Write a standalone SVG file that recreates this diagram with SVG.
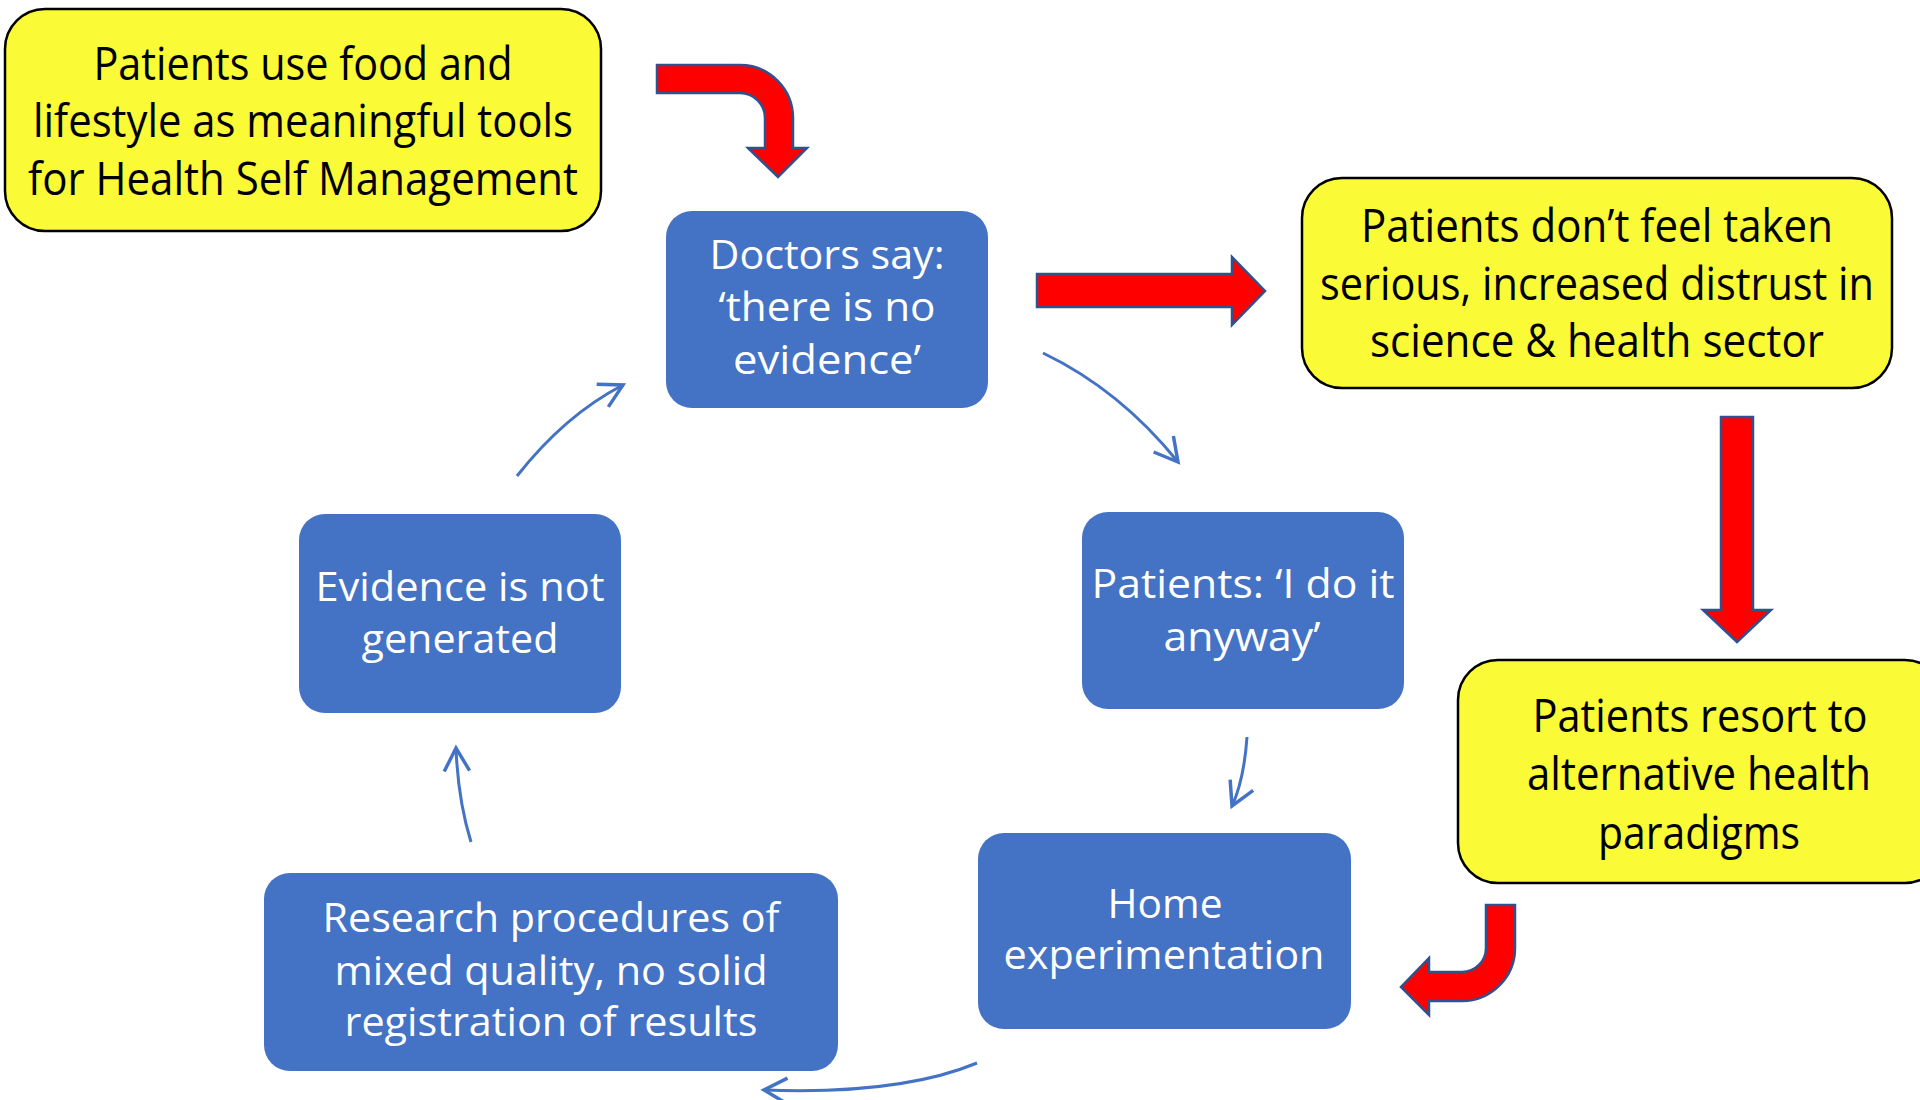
<svg xmlns="http://www.w3.org/2000/svg" width="1920" height="1100" viewBox="0 0 1920 1100">
<style>
.y{fill:#FAFA37;stroke:#000;stroke-width:2.5}
.b{fill:#4472C4;stroke:none}
.ty{font-family:"Open Sans","Noto Sans",sans-serif;font-size:45px;fill:#000;text-anchor:middle}
.tb{font-family:"Open Sans","Noto Sans",sans-serif;font-size:41px;fill:#fff;text-anchor:middle}
.red{fill:#FF0000;stroke:#2F528F;stroke-width:2.5;stroke-linejoin:miter}
.c{fill:none;stroke:#4472C4;stroke-width:3}
</style>
<defs>
<marker id="ah" markerUnits="userSpaceOnUse" markerWidth="30" markerHeight="30" viewBox="-22 -12 26 24" refX="0" refY="0" orient="auto">
<polyline points="-20,-11 0,0 -20,11" fill="none" stroke="#4472C4" stroke-width="3"/>
</marker>
</defs>
<rect width="1920" height="1100" fill="#fff"/>

<g id="n-selfmanagement">
<rect class="y" x="5" y="9" width="596" height="222" rx="40"/>
<text class="ty" x="303" y="80" textLength="419" lengthAdjust="spacingAndGlyphs">Patients use food and</text>
<text class="ty" x="303" y="137" textLength="540" lengthAdjust="spacingAndGlyphs">lifestyle as meaningful tools</text>
<text class="ty" x="303" y="195" textLength="550" lengthAdjust="spacingAndGlyphs">for Health Self Management</text>
</g>

<g id="n-distrust">
<rect class="y" x="1302" y="178" width="590" height="210" rx="40"/>
<text class="ty" x="1597" y="242" textLength="472" lengthAdjust="spacingAndGlyphs">Patients don’t feel taken</text>
<text class="ty" x="1597" y="300" textLength="554" lengthAdjust="spacingAndGlyphs">serious, increased distrust in</text>
<text class="ty" x="1597" y="357" textLength="454" lengthAdjust="spacingAndGlyphs">science &amp; health sector</text>
</g>

<g id="n-alternative">
<rect class="y" x="1458" y="660" width="487" height="223" rx="40"/>
<text class="ty" x="1700" y="732" textLength="335" lengthAdjust="spacingAndGlyphs">Patients resort to</text>
<text class="ty" x="1699" y="790" textLength="344" lengthAdjust="spacingAndGlyphs">alternative health</text>
<text class="ty" x="1699" y="849" textLength="202" lengthAdjust="spacingAndGlyphs">paradigms</text>
</g>

<g id="n-doctors">
<rect class="b" x="666" y="211" width="322" height="197" rx="26"/>
<text class="tb" x="827" y="269" textLength="235" lengthAdjust="spacingAndGlyphs">Doctors say:</text>
<text class="tb" x="827" y="321" textLength="217" lengthAdjust="spacingAndGlyphs">‘there is no</text>
<text class="tb" x="827" y="374" textLength="188" lengthAdjust="spacingAndGlyphs">evidence’</text>
</g>

<g id="n-anyway">
<rect class="b" x="1082" y="512" width="322" height="197" rx="26"/>
<text class="tb" x="1243" y="598" textLength="303" lengthAdjust="spacingAndGlyphs">Patients: ‘I do it</text>
<text class="tb" x="1242" y="651" textLength="157" lengthAdjust="spacingAndGlyphs">anyway’</text>
</g>

<g id="n-home">
<rect class="b" x="978" y="833" width="373" height="196" rx="26"/>
<text class="tb" x="1165" y="918" textLength="115" lengthAdjust="spacingAndGlyphs">Home</text>
<text class="tb" x="1164" y="969" textLength="321" lengthAdjust="spacingAndGlyphs">experimentation</text>
</g>

<g id="n-research">
<rect class="b" x="264" y="873" width="574" height="198" rx="26"/>
<text class="tb" x="551" y="932" textLength="457" lengthAdjust="spacingAndGlyphs">Research procedures of</text>
<text class="tb" x="551" y="985" textLength="433" lengthAdjust="spacingAndGlyphs">mixed quality, no solid</text>
<text class="tb" x="551" y="1036" textLength="413" lengthAdjust="spacingAndGlyphs">registration of results</text>
</g>

<g id="n-evidence">
<rect class="b" x="299" y="514" width="322" height="199" rx="26"/>
<text class="tb" x="460" y="601" textLength="289" lengthAdjust="spacingAndGlyphs">Evidence is not</text>
<text class="tb" x="460" y="653" textLength="197" lengthAdjust="spacingAndGlyphs">generated</text>
</g>

<g id="connectors">
<path class="red" d="M657,65 L740,65 A53,53 0 0 1 793,118 L793,148 L807,148 L778,177 L748,148 L765,148 L765,118 A25,25 0 0 0 740,93 L657,93 Z"/>
<polygon class="red" points="1037,274 1232,274 1232,257 1265,291 1232,325 1232,307 1037,307"/>
<polygon class="red" points="1721,417 1753,417 1753,610 1771,610 1737,642 1703,610 1721,610"/>
<path class="red" d="M1486,905 L1515,905 L1515,948 A53,53 0 0 1 1462,1001 L1429,1001 L1429,1015 L1401,987 L1429,958 L1429,972 L1462,972 A24,24 0 0 0 1486,948 Z"/>
<path class="c" marker-end="url(#ah)" d="M1043,353 Q1120,390 1178,462"/>
<path class="c" marker-end="url(#ah)" d="M1247,737 Q1244,780 1232,806"/>
<path class="c" marker-end="url(#ah)" d="M977,1063 Q900,1095 764,1090"/>
<path class="c" marker-end="url(#ah)" d="M471,842 Q458,800 456,748"/>
<path class="c" marker-end="url(#ah)" d="M517,476 Q565,415 623,385"/>
</g>
</svg>
